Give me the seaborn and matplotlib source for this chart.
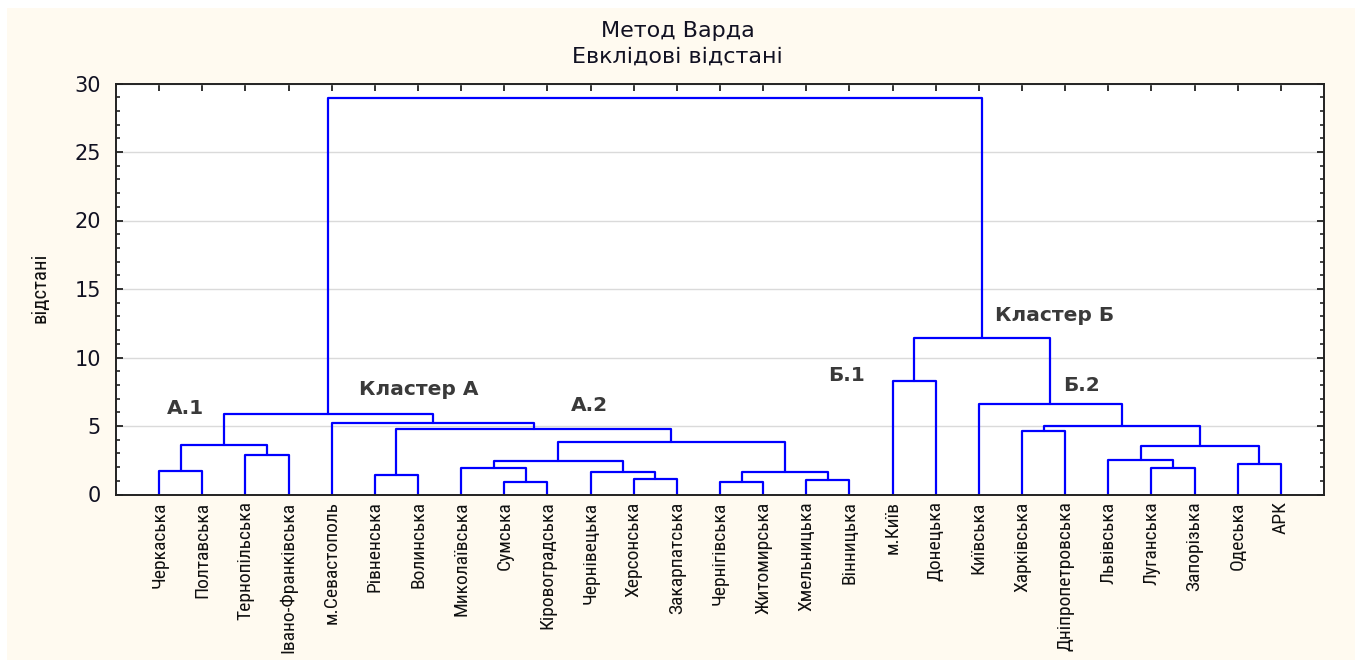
import numpy as np
import pandas as pd
import matplotlib
matplotlib.use("Agg")
import matplotlib.pyplot as plt
import seaborn as sns
from matplotlib import font_manager
from matplotlib.patches import Rectangle
from matplotlib.ticker import MultipleLocator

# leaves, left to right as in the tree
leaves = ["Черкаська", "Полтавська", "Тернопільська", "Івано-Франківська",
          "м.Севастополь", "Рівненська", "Волинська", "Миколаївська", "Сумська",
          "Кіровоградська", "Чернівецька", "Херсонська", "Закарпатська",
          "Чернігівська", "Житомирська", "Хмельницька", "Вінницька", "м.Київ",
          "Донецька", "Київська", "Харківська", "Дніпропетровська", "Львівська",
          "Луганська", "Запорізька", "Одеська", "АРК"]

# merges: node ids < 27 are leaves, new node id = 27 + merge index
link_a = [8, 13, 15, 11, 5, 10, 28, 0, 23, 7, 25, 36, 22, 2, 39, 34, 38, 20, 31, 44, 4, 42, 19, 17, 50, 48]
link_b = [9, 14, 16, 12, 6, 30, 29, 1, 24, 27, 26, 32, 35, 3, 37, 40, 33, 21, 43, 41, 45, 47, 46, 18, 49, 51]
link_height = [0.89, 0.89, 1.04, 1.11, 1.42, 1.64, 1.64, 1.74, 1.91, 1.96, 2.25, 2.47,
               2.52, 2.86, 3.56, 3.59, 3.81, 4.61, 4.76, 5.02, 5.24, 5.88, 6.58, 8.29,
               11.45, 28.94]

labels_text = ["А.1", "Кластер А", "А.2", "Б.1", "Кластер Б", "Б.2"]

n = len(leaves)
pos = {i: float(i) for i in range(n)}
hgt = {i: 0.0 for i in range(n)}
rows = []
for k, (a, b, h) in enumerate(zip(link_a, link_b, link_height)):
    xs = [pos[a], pos[a], pos[b], pos[b]]
    ys = [hgt[a], h, h, hgt[b]]
    for j in range(4):
        rows.append({"link": k, "order": j, "x": xs[j], "y": ys[j]})
    pos[n + k] = (pos[a] + pos[b]) / 2
    hgt[n + k] = h
df = pd.DataFrame(rows)


def have_font(name):
    try:
        font_manager.findfont(font_manager.FontProperties(family=name), fallback_to_default=False)
        return True
    except Exception:
        return False


# condensed font for the rotated labels if there is one, otherwise Arial-like
narrow_size = 12
narrow = ["Liberation Sans", "DejaVu Sans"]
for fam in ["Liberation Sans Narrow", "Roboto Condensed", "Open Sans Condensed", "DejaVu Sans Condensed"]:
    if have_font(fam):
        narrow = [fam, "DejaVu Sans"]
        narrow_size = 14
        break

sns.set_style("ticks")
plt.rcParams["font.family"] = ["DejaVu Sans"]

fig = plt.figure(figsize=(13.55, 6.6), dpi=100, facecolor="white")
fig.patches.append(Rectangle((7 / 1355, 0), 1, 1 - 8 / 660, transform=fig.transFigure,
                             facecolor="#fffaf0", edgecolor="none", zorder=-10))
ax = fig.add_axes([116 / 1355, 1 - 494.5 / 660, (1324 - 116) / 1355, (494.5 - 83.5) / 660])
ax.set_facecolor("white")

sns.lineplot(data=df, x="x", y="y", units="link", estimator=None, sort=False,
             color="#0000ff", lw=1.6, legend=False, ax=ax)

ax.set_xlim(-1, n)
ax.set_ylim(0, 30)
ax.set_xticks(range(n))
ax.set_xticklabels(leaves, rotation=90, fontsize=narrow_size, family=narrow, va="top",
                   color="#111111")
ax.yaxis.set_major_locator(MultipleLocator(5))
ax.yaxis.set_minor_locator(MultipleLocator(1))
ax.tick_params(axis="both", which="major", direction="in", top=True, right=True,
               length=5, width=1.3, color="#222222")
ax.tick_params(axis="y", which="minor", direction="in", right=True, length=3, width=1.2,
               color="#222222")
ax.tick_params(axis="x", pad=5)
ax.tick_params(axis="y", labelsize=15, pad=11, labelcolor="#111122")
ax.grid(axis="y", which="major", color="#dadada", lw=1)
ax.set_axisbelow(True)
for s in ax.spines.values():
    s.set_linewidth(1.4)
    s.set_color("#222222")
ax.set_xlabel("")
ax.set_ylabel("")

fig.text(0.5, 1 - 30.7 / 660, "Метод Варда", ha="center", va="center", fontsize=16, color="#111122")
fig.text(0.5, 1 - 56.7 / 660, "Евклідові відстані", ha="center", va="center", fontsize=16, color="#111122")
fig.text(40 / 1355, 1 - 288 / 660, "відстані", rotation=90, ha="center", va="center",
         fontsize=15, family=narrow, color="#111111")

label_x = [0.19, 4.64, 9.54, 15.5, 19.38, 20.96]
label_y = [6.31, 7.63, 6.46, 8.65, 13.03, 7.92]
for t, x, y in zip(labels_text, label_x, label_y):
    ax.text(x, y, t, ha="left", va="center", fontsize=14.5, fontweight="bold", color="#3a3a3a")

fig.savefig("out.png", dpi=100, facecolor=fig.get_facecolor())
